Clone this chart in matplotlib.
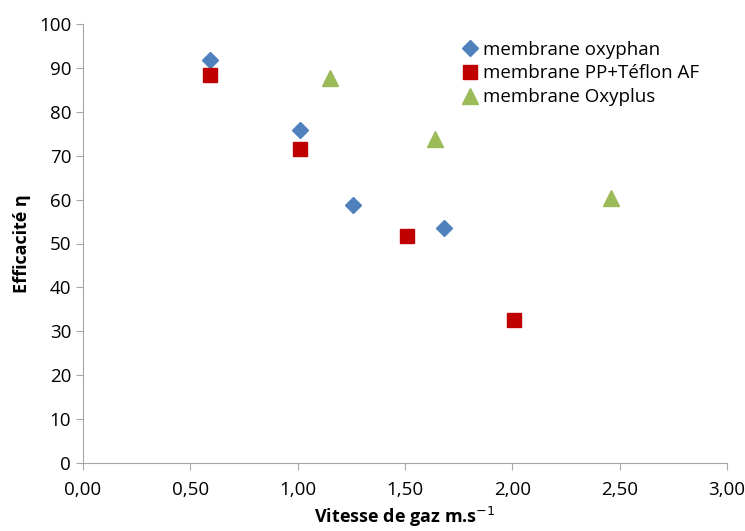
import matplotlib.pyplot as plt
from matplotlib.ticker import FuncFormatter

plt.rcParams['font.family'] = ['Open Sans', 'DejaVu Sans']

# donnees
x_oxyphan = [0.59, 1.01, 1.26, 1.68]
y_oxyphan = [91.8, 75.8, 58.7, 53.5]
x_teflon = [0.59, 1.01, 1.51, 2.01]
y_teflon = [88.4, 71.5, 51.7, 32.6]
x_oxyplus = [1.15, 1.64, 2.46]
y_oxyplus = [87.7, 73.8, 60.3]

labels = ['membrane oxyphan', 'membrane PP+Téflon AF', 'membrane Oxyplus']

fig = plt.figure(figsize=(7.45, 5.31), dpi=100)
ax = fig.add_axes([83/745, 1 - 463/531, 644/745, 439/531])

ax.plot(x_oxyphan, y_oxyphan, 'D', color='#4F81BD', markersize=8.5, label=labels[0])
ax.plot(x_teflon, y_teflon, 's', color='#C00000', markersize=10, label=labels[1])
ax.plot(x_oxyplus, y_oxyplus, '^', color='#9BBB59', markersize=11, label=labels[2])

ax.set_xlim(0, 3)
ax.set_ylim(0, 100)
ax.set_xticks([0, 0.5, 1, 1.5, 2, 2.5, 3])
ax.set_yticks(range(0, 101, 10))
ax.xaxis.set_major_formatter(FuncFormatter(lambda v, p: ('%.2f' % v).replace('.', ',')))

for s in ['top', 'right']:
    ax.spines[s].set_visible(False)
for s in ['left', 'bottom']:
    ax.spines[s].set_color('#A6A6A6')
ax.tick_params(colors='#A6A6A6', labelcolor='black', labelsize=13.5, length=5)
ax.tick_params(axis='x', pad=8)

ax.set_xlabel('Vitesse de gaz m.s$^{-1}$', fontsize=13, fontweight='bold', labelpad=4)
ax.set_ylabel('Efficacité η', fontsize=13, fontweight='bold', labelpad=6)

ax.legend(loc='upper left', bbox_to_anchor=(0.557, 1.0), frameon=False,
          fontsize=13.5, handletextpad=0.1, labelspacing=0.3, handlelength=1.2)

fig.savefig('out.png', dpi=100)
